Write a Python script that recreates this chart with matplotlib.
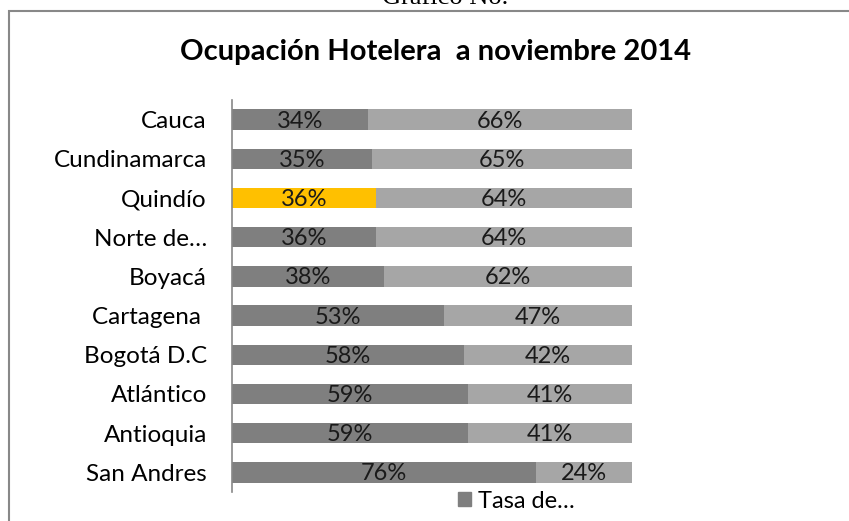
import matplotlib
matplotlib.use("Agg")
import matplotlib.pyplot as plt
from matplotlib.patches import Rectangle, Patch

# data (top to bottom as in the chart)
departamentos = ["Cauca", "Cundinamarca", "Quindío", "Norte de…", "Boyacá",
                 "Cartagena ", "Bogotá D.C", "Atlántico", "Antioquia", "San Andres"]
ocupacion = [34, 35, 36, 36, 38, 53, 58, 59, 59, 76]
resto = [66, 65, 64, 64, 62, 47, 42, 41, 41, 24]
resaltado = "Quindío"

dark = "#7f7f7f"
light = "#a6a6a6"
yellow = "#ffc000"

plt.rcParams['font.family'] = ['Lato', 'DejaVu Sans']

fig = plt.figure(figsize=(8.49, 5.21), dpi=100)
ax = fig.add_axes([232 / 849, 1 - 492 / 521, 400 / 849, 392 / 521])

y = list(range(len(departamentos)))
colores = [yellow if d == resaltado else dark for d in departamentos]
ax.barh(y, ocupacion, height=0.52, color=colores)
ax.barh(y, resto, left=ocupacion, height=0.52, color=light)

for i in y:
    ax.text(ocupacion[i] / 2, i + 0.04, f"{ocupacion[i]}%", ha="center", va="center",
            fontsize=17, color="#1a1a1a")
    ax.text(ocupacion[i] + resto[i] / 2, i + 0.04, f"{resto[i]}%", ha="center",
            va="center", fontsize=17, color="#1a1a1a")

ax.set_xlim(0, 100)
ax.set_ylim(len(departamentos) - 0.5, -0.5)
ax.set_yticks(y)
ax.set_yticklabels(departamentos, fontsize=17.5)
ax.tick_params(axis="y", length=0, pad=18)
ax.set_xticks([])
for s in ["top", "right", "bottom"]:
    ax.spines[s].set_visible(False)
ax.spines["left"].set_color("#888888")
ax.spines["left"].set_linewidth(1.2)

# legend
ax.legend([Patch(color=dark)], ["Tasa de…"], loc="center left",
          bbox_to_anchor=(214 / 400, -9 / 392), frameon=False, fontsize=17,
          handlelength=0.55, handleheight=0.55, handletextpad=0.3, borderpad=0)

# title and frame
fig.text(436 / 849, 1 - 52 / 521, "Ocupación Hotelera  a noviembre 2014",
         ha="center", va="center", fontsize=21, fontweight="bold")
fig.text(445 / 849, 1 - 4 / 521, "Gráfico No.", ha="center", va="baseline",
         fontsize=19, family=["Liberation Serif"])
fig.add_artist(Rectangle((8.5 / 849, -0.1), 1.2, 1 - 10.5 / 521 + 0.1,
                         transform=fig.transFigure, fill=False,
                         edgecolor="#888888", linewidth=1.5))

fig.savefig("out.png", dpi=100)
